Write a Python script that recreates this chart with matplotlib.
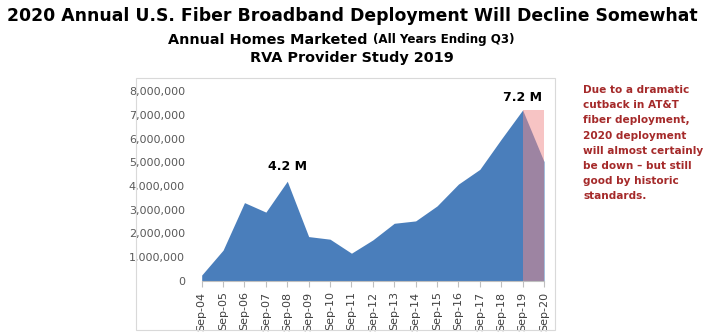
import matplotlib.pyplot as plt
from matplotlib.patches import Rectangle
from matplotlib.ticker import FuncFormatter

years = ["Sep-04", "Sep-05", "Sep-06", "Sep-07", "Sep-08", "Sep-09", "Sep-10",
         "Sep-11", "Sep-12", "Sep-13", "Sep-14", "Sep-15", "Sep-16", "Sep-17",
         "Sep-18", "Sep-19", "Sep-20"]
homes = [250000, 1300000, 3300000, 2900000, 4200000, 1870000, 1760000,
         1170000, 1730000, 2430000, 2530000, 3160000, 4080000, 4700000,
         5970000, 7200000, 5030000]
peak_2019 = 7200000

fig = plt.figure(figsize=(7.04, 3.36), dpi=100)

# chart frame
fig.patches.append(Rectangle((136 / 704, 1 - 330 / 336), (555 - 136) / 704, (330 - 78) / 336,
                             transform=fig.transFigure, fill=False, edgecolor="#d9d9d9", lw=0.8))

ax = fig.add_axes([201.7 / 704, 1 - 281 / 336, (544 - 201.7) / 704, (281 - 91) / 336])
x = list(range(len(years)))
ax.fill_between(x, homes, color="#4a7ebb", lw=0)
# 2020 projection band
ax.fill_between([15, 16], [peak_2019, peak_2019], color="#f08a8a", alpha=0.5, lw=0)

ax.set_xlim(0, 16)
ax.set_ylim(0, 8000000)
ax.set_yticks(range(0, 8000001, 1000000))
ax.yaxis.set_major_formatter(FuncFormatter(lambda v, p: f"{int(v):,}"))
ax.set_xticks(x)
ax.set_xticklabels(years, rotation=90)
ax.tick_params(axis="y", length=0, labelsize=8, labelcolor="#595959", pad=12)
ax.tick_params(axis="x", length=4, color="#bfbfbf", labelsize=8, labelcolor="#404040")
for s in ["top", "right", "left"]:
    ax.spines[s].set_visible(False)
ax.spines["bottom"].set_color("#bfbfbf")

ax.text(4, 4550000, "4.2 M", ha="center", va="bottom", fontsize=9, fontweight="bold")
ax.text(15, 7450000, "7.2 M", ha="center", va="bottom", fontsize=9, fontweight="bold")

fig.text(0.5, 1 - 16 / 336, "2020 Annual U.S. Fiber Broadband Deployment Will Decline Somewhat",
         ha="center", va="center", fontsize=12.4, fontweight="bold")
fig.text(367 / 704, 1 - 40 / 336, "Annual Homes Marketed", ha="right", va="center",
         fontsize=10.4, fontweight="bold")
fig.text(373 / 704, 1 - 40 / 336, "(All Years Ending Q3)", ha="left", va="center",
         fontsize=8.6, fontweight="bold")
fig.text(0.5, 1 - 58 / 336, "RVA Provider Study 2019", ha="center", va="center",
         fontsize=10.4, fontweight="bold")

fig.text(583 / 704, 1 - 85 / 336,
         "Due to a dramatic\ncutback in AT&T\nfiber deployment,\n2020 deployment\n"
         "will almost certainly\nbe down \u2013 but still\ngood by historic\nstandards.",
         ha="left", va="top", fontsize=7.6, fontweight="bold", color="#a52a2a", linespacing=1.65)

fig.savefig("out.png", dpi=100)
